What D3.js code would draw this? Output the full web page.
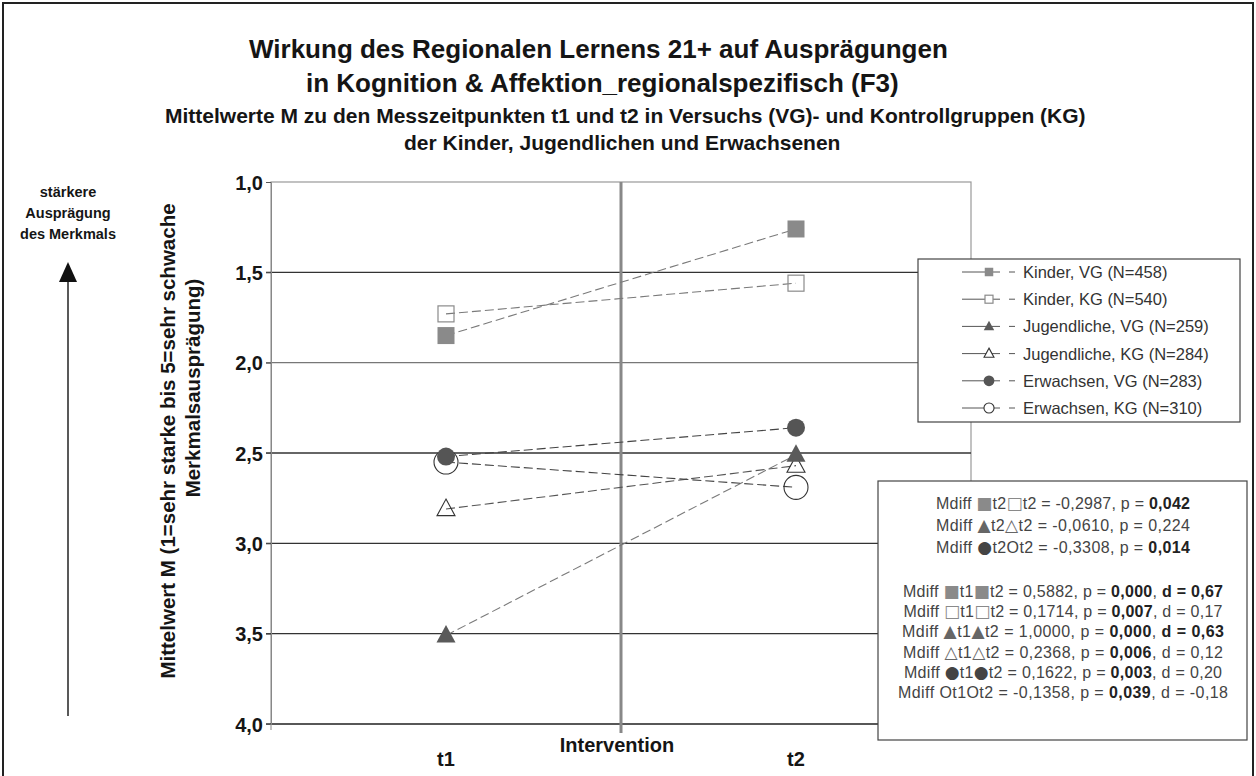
<!DOCTYPE html>
<html><head><meta charset="utf-8">
<script src="https://cdn.jsdelivr.net/npm/d3@7"></script>
<style>
html,body{margin:0;padding:0;background:#fff;}
svg{display:block;font-family:Arial,"Liberation Sans",Helvetica,sans-serif;}
</style></head>
<body>
<svg id="chart" width="1256" height="776"></svg>
<script>
// ---------- data ----------
const timepoints = ["t1", "t2"];
const yTicks = [1.0, 1.5, 2.0, 2.5, 3.0, 3.5, 4.0];
const seriesNames = [
  "Kinder, VG (N=458)", "Kinder, KG (N=540)",
  "Jugendliche, VG (N=259)", "Jugendliche, KG (N=284)",
  "Erwachsen, VG (N=283)", "Erwachsen, KG (N=310)"
];
const kinderVG = [1.85, 1.26];
const kinderKG = [1.73, 1.56];
const jugendVG = [3.51, 2.51];
const jugendKG = [2.81, 2.57];
const erwVG = [2.52, 2.36];
const erwKG = [2.55, 2.69];
const seriesValues = [kinderVG, kinderKG, jugendVG, jugendKG, erwVG, erwKG];

const titleLines = [
  "Wirkung des Regionalen Lernens 21+ auf Ausprägungen",
  "in Kognition & Affektion_regionalspezifisch (F3)"
];
const subtitleLines = [
  "Mittelwerte M zu den Messzeitpunkten t1 und t2 in Versuchs (VG)- und Kontrollgruppen (KG)",
  "der Kinder, Jugendlichen und Erwachsenen"
];
const yTitleLines = ["Mittelwert M (1=sehr starke bis 5=sehr schwache", "Merkmalsausprägung)"];
const sideNote = ["stärkere", "Ausprägung", "des Merkmals"];
const interventionLabel = "Intervention";

// annotation rows: [text parts with series-symbol indices], [value parts, bold flag]
const statsGroup1 = [
  [["Mdiff ", 0, "t2", 1, "t2 = -0,2987, p = "], [["0,042", true]]],
  [["Mdiff ", 2, "t2", 3, "t2 = -0,0610, p = 0,224"], []],
  [["Mdiff ", 4, "t2", "O", "t2 = -0,3308, p = "], [["0,014", true]]]
];
const statsGroup2 = [
  [["Mdiff ", 0, "t1", 0, "t2 = 0,5882, p = "], [["0,000", true], [", ", false], ["d = 0,67", true]]],
  [["Mdiff ", 1, "t1", 1, "t2 = 0,1714, p = "], [["0,007", true], [", d = 0,17", false]]],
  [["Mdiff ", 2, "t1", 2, "t2 = 1,0000, p = "], [["0,000", true], [", ", false], ["d = 0,63", true]]],
  [["Mdiff ", 3, "t1", 3, "t2 = 0,2368, p = "], [["0,006", true], [", d = 0,12", false]]],
  [["Mdiff ", 4, "t1", 4, "t2 = 0,1622, p = "], [["0,003", true], [", d = 0,20", false]]],
  [["Mdiff ", "O", "t1", "O", "t2 = -0,1358, p = "], [["0,039", true], [", d = -0,18", false]]]
];

// ---------- styles ----------
const styles = [
  {shape: "square",   fill: "#8a8a8a", stroke: "none",    line: "#7a7a7a", size: 17, glyph: "■", gcol: "#8a8a8a"},
  {shape: "square",   fill: "none",    stroke: "#8a8a8a", line: "#7a7a7a", size: 16, glyph: "□", gcol: "#8a8a8a"},
  {shape: "triangle", fill: "#5a5a5a", stroke: "none",    line: "#7a7a7a", size: 19, glyph: "▲", gcol: "#666"},
  {shape: "triangle", fill: "none",    stroke: "#333",    line: "#555",    size: 18, glyph: "△", gcol: "#666"},
  {shape: "circle",   fill: "#555555", stroke: "none",    line: "#444",    size: 9,  glyph: "●", gcol: "#444"},
  {shape: "circle",   fill: "none",    stroke: "#333",    line: "#444",    size: 12, glyph: "O", gcol: "#444"}
];

const svg = d3.select("#chart");
const W = 1256, H = 776;
svg.append("rect").attr("x", 0).attr("y", 0).attr("width", W).attr("height", H).attr("fill", "#fff");
svg.append("rect").attr("x", 3).attr("y", 3).attr("width", W - 6).attr("height", H + 20)
  .attr("fill", "none").attr("stroke", "#222").attr("stroke-width", 2);

const plot = {left: 271, right: 971, top: 182, bottom: 724};
const x = d3.scaleBand().domain(timepoints).range([plot.left, plot.right]);
const y = d3.scaleLinear().domain([1, 4]).range([plot.top, plot.bottom]);
const cx = t => x(t) + x.bandwidth() / 2;

// titles
const titleX = [249, 306];
svg.selectAll("text.title").data(titleLines).enter().append("text")
  .attr("x", (d, i) => titleX[i]).attr("y", (d, i) => 58 + i * 34)
  .attr("font-size", 26).attr("font-weight", "bold").attr("fill", "#151515")
  .text(d => d);
const subX = [165, 404];
svg.selectAll("text.sub").data(subtitleLines).enter().append("text")
  .attr("x", (d, i) => subX[i]).attr("y", (d, i) => 123 + i * 27)
  .attr("font-size", 21).attr("font-weight", "bold").attr("fill", "#151515")
  .text(d => d);

// plot frame
svg.append("rect").attr("x", plot.left).attr("y", plot.top)
  .attr("width", plot.right - plot.left).attr("height", plot.bottom - plot.top)
  .attr("fill", "none").attr("stroke", "#999").attr("stroke-width", 1.2);

// grid lines
svg.append("g").selectAll("line").data(yTicks.slice(1)).enter().append("line")
  .attr("x1", plot.left - 5).attr("x2", plot.right)
  .attr("y1", d => y(d)).attr("y2", d => y(d))
  .attr("stroke", (d) => d === 2.0 ? "#777" : "#333").attr("stroke-width", 1.3);

// y axis
const yAxis = d3.axisLeft(y).tickValues(yTicks)
  .tickFormat(d => d3.format(".1f")(d).replace(".", ","))
  .tickSize(5).tickPadding(3);
const gy = svg.append("g").attr("transform", `translate(${plot.left},0)`).call(yAxis);
gy.select(".domain").attr("stroke", "#888");
gy.selectAll(".tick line").attr("stroke", "#555");
gy.selectAll(".tick text").attr("font-size", 20).attr("font-weight", "bold").attr("fill", "#151515")
  .attr("font-family", "Arial, 'Liberation Sans', sans-serif").attr("dy", "0.36em");

svg.append("line").attr("x1", plot.left).attr("x2", plot.left).attr("y1", plot.bottom).attr("y2", plot.bottom + 6)
  .attr("stroke", "#888");

// intervention line
const xMid = plot.left + (plot.right - plot.left) / 2;
svg.append("line").attr("x1", xMid).attr("x2", xMid).attr("y1", plot.top).attr("y2", plot.bottom + 9)
  .attr("stroke", "#888").attr("stroke-width", 3);

// x labels
svg.selectAll("text.xl").data(timepoints).enter().append("text")
  .attr("x", d => cx(d)).attr("y", 766).attr("text-anchor", "middle")
  .attr("font-size", 20).attr("font-weight", "bold").attr("fill", "#151515").text(d => d);
svg.append("text").attr("x", xMid - 4).attr("y", 752).attr("text-anchor", "middle")
  .attr("font-size", 20).attr("font-weight", "bold").attr("fill", "#151515").text(interventionLabel);

// y title (two lines, rotated)
const yTitlePos = [[175, 441], [200, 388]];
yTitleLines.forEach((l, i) => {
  svg.append("text").attr("transform", `translate(${yTitlePos[i][0]},${yTitlePos[i][1]}) rotate(-90)`)
    .attr("font-size", 20.5).attr("font-weight", "bold").attr("fill", "#151515").attr("text-anchor", "middle")
    .text(l);
});

// side note + arrow
svg.selectAll("text.side").data(sideNote).enter().append("text")
  .attr("x", 68).attr("y", (d, i) => 197 + i * 21).attr("text-anchor", "middle")
  .attr("font-size", 14.5).attr("font-weight", "bold").attr("fill", "#151515").text(d => d);
svg.append("line").attr("x1", 68).attr("x2", 68).attr("y1", 716).attr("y2", 275)
  .attr("stroke", "#222").attr("stroke-width", 1.5);
svg.append("path").attr("d", "M68,262 L59,282 L77,282 Z").attr("fill", "#111");

// marker helper
function drawMarker(g, st, px, py, scale) {
  const s = st.size * scale;
  if (st.shape === "square") {
    g.append("rect").attr("x", px - s / 2).attr("y", py - s / 2).attr("width", s).attr("height", s)
      .attr("fill", st.fill).attr("stroke", st.stroke).attr("stroke-width", 1.2);
  } else if (st.shape === "triangle") {
    const h = s * 0.92;
    g.append("path").attr("d", `M${px},${py - h * 0.6} L${px + s / 2},${py + h * 0.4} L${px - s / 2},${py + h * 0.4} Z`)
      .attr("fill", st.fill).attr("stroke", st.stroke).attr("stroke-width", 1.1);
  } else {
    g.append("circle").attr("cx", px).attr("cy", py).attr("r", s)
      .attr("fill", st.fill).attr("stroke", st.stroke).attr("stroke-width", 1.1);
  }
}

// series lines
const lineGen = d3.line().x((d, i) => cx(timepoints[i])).y(d => y(d));
const gl = svg.append("g");
seriesValues.forEach((vals, k) => {
  gl.append("path").attr("d", lineGen(vals)).attr("fill", "none")
    .attr("stroke", styles[k].line).attr("stroke-width", 1.1).attr("stroke-dasharray", "9,4");
});
const drawOrder = [1, 0, 3, 2, 5, 4];
const gm = svg.append("g");
drawOrder.forEach(k => {
  seriesValues[k].forEach((v, i) => drawMarker(gm, styles[k], cx(timepoints[i]), y(v), 1));
});

// legend
const lg = svg.append("g");
lg.append("rect").attr("x", 918).attr("y", 259).attr("width", 322).attr("height", 163)
  .attr("fill", "#fff").attr("stroke", "#444").attr("stroke-width", 1.2);
const legendScale = [0.5, 0.5, 0.55, 0.55, 0.6, 0.42];
seriesNames.forEach((name, k) => {
  const ly = 272 + k * 27.2;
  lg.append("line").attr("x1", 962).attr("x2", 1000).attr("y1", ly).attr("y2", ly)
    .attr("stroke", "#555").attr("stroke-width", 1);
  lg.append("line").attr("x1", 1009).attr("x2", 1015).attr("y1", ly).attr("y2", ly)
    .attr("stroke", "#555").attr("stroke-width", 1);
  const st = Object.assign({}, styles[k]);
  if (st.fill === "none") st.fill = "#fff";
  drawMarker(lg, st, 989, ly, legendScale[k]);
  lg.append("text").attr("x", 1023).attr("y", ly + 6).attr("font-size", 16.5).attr("fill", "#333").text(name);
});

// annotation box
const ab = svg.append("g");
ab.append("rect").attr("x", 878).attr("y", 481).attr("width", 369).attr("height", 259)
  .attr("fill", "#fff").attr("stroke", "#444").attr("stroke-width", 1.2);
function statRow(row, ty, len) {
  const t = ab.append("text").attr("x", 1063).attr("y", ty).attr("text-anchor", "middle")
    .attr("font-size", 16).attr("fill", "#444");
  row[0].forEach(p => {
    if (typeof p === "number") {
      t.append("tspan").attr("fill", styles[p].gcol).attr("font-family", "DejaVu Sans")
        .attr("font-size", 17).text(styles[p].glyph);
    } else {
      t.append("tspan").text(p);
    }
  });
  row[1].forEach(([s, b]) => {
    const ts = t.append("tspan").text(s);
    if (b) ts.attr("font-weight", "bold").attr("fill", "#222");
  });
  const cur = t.node().getComputedTextLength();
  if (Math.abs(cur - len) > 2) t.attr("textLength", len).attr("lengthAdjust", "spacing");
}
statsGroup1.forEach((r, i) => statRow(r, 509 + i * 22, 254));
const g2len = [320, 319, 322, 320, 318, 330];
statsGroup2.forEach((r, i) => statRow(r, 597 + i * 20.2, g2len[i]));
</script>
</body></html>
